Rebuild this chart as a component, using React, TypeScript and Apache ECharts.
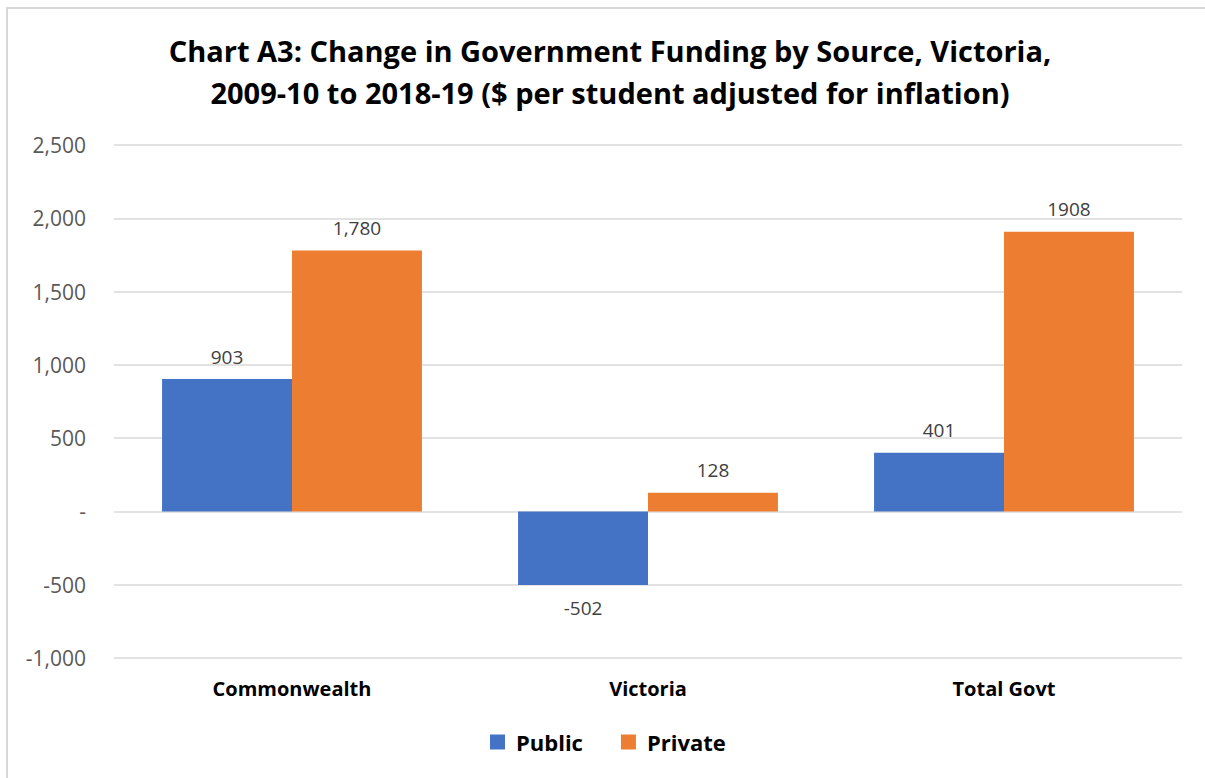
import React, { useEffect, useRef } from "react";
import * as echarts from "echarts";

const categories = ["Commonwealth", "Victoria", "Total Govt"];
const publicValues = [903, -502, 401];
const privateValues = [1780, 128, 1908];
const publicLabels = ["903", "-502", "401"];
const privateLabels = ["1,780", "128", "1908"];
const seriesNames = ["Public", "Private"];
const titleText = "Chart A3: Change in Government Funding by Source, Victoria,\n2009-10 to 2018-19 ($ per student adjusted for inflation)";

const FONT = "'Open Sans', 'Noto Sans', sans-serif";

export default function App() {
  const ref = useRef<HTMLDivElement>(null);
  useEffect(() => {
    if (!ref.current) return;
    const chart = echarts.init(ref.current, null, { renderer: "svg" });
    const mk = (vals: number[], labels: string[]) =>
      vals.map((v, i) => ({
        value: v,
        label: { position: v < 0 ? "bottom" : "top", formatter: labels[i] },
      }));
    const labelStyle = { show: true, distance: 13, fontFamily: FONT, fontSize: 19, color: "#404040" };
    chart.setOption({
      animation: false,
      backgroundColor: "#ffffff",
      title: {
        text: titleText,
        left: 605,
        top: 24,
        textAlign: "center",
        textStyle: {
          fontFamily: FONT,
          fontWeight: "bold",
          fontSize: 29,
          lineHeight: 42,
          color: "#000000",
        },
      },
      legend: {
        data: seriesNames,
        bottom: 20,
        left: 485,
        itemWidth: 15,
        itemHeight: 15,
        itemGap: 38,
        icon: "rect",
        textStyle: { fontFamily: FONT, fontWeight: "bold", fontSize: 22, color: "#000000", padding: [0, 0, 0, 6] },
      },
      grid: { left: 114, right: 23, top: 145, bottom: 120, containLabel: false },
      xAxis: {
        type: "category",
        data: categories,
        axisLine: { show: false },
        axisTick: { show: false },
        axisLabel: {
          margin: 20,
          fontFamily: FONT,
          fontWeight: "bold",
          fontSize: 20,
          color: "#000000",
        },
        position: "bottom",
      },
      yAxis: {
        type: "value",
        min: -1000,
        max: 2500,
        interval: 500,
        axisLine: { show: false },
        axisTick: { show: false },
        splitLine: { lineStyle: { color: "#d9d9d9", width: 1.5 } },
        axisLabel: {
          margin: 28,
          fontFamily: FONT,
          fontSize: 21,
          color: "#595959",
          formatter: (v: number) => (v === 0 ? "-" : v.toLocaleString("en-US")),
        },
      },
      series: [
        {
          name: seriesNames[0],
          type: "bar",
          data: mk(publicValues, publicLabels),
          itemStyle: { color: "#4472C4" },
          barGap: "0%",
          barCategoryGap: "27%",
          label: labelStyle,
        },
        {
          name: seriesNames[1],
          type: "bar",
          data: mk(privateValues, privateLabels),
          itemStyle: { color: "#ED7D31" },
          barGap: "0%",
          barCategoryGap: "27%",
          label: labelStyle,
        },
      ],
    });
    return () => chart.dispose();
  }, []);
  return (
    <div style={{ position: "fixed", left: 0, top: 0, width: 1205, height: 778, overflow: "hidden", background: "#fff" }}>
      <div ref={ref} style={{ position: "absolute", left: 0, top: 0, width: 1205, height: 778 }} />
      <div
        style={{
          position: "absolute",
          left: 6,
          top: 7,
          width: 1300,
          height: 900,
          borderLeft: "2px solid #d9d9d9",
          borderTop: "2px solid #d9d9d9",
          pointerEvents: "none",
        }}
      />
    </div>
  );
}
